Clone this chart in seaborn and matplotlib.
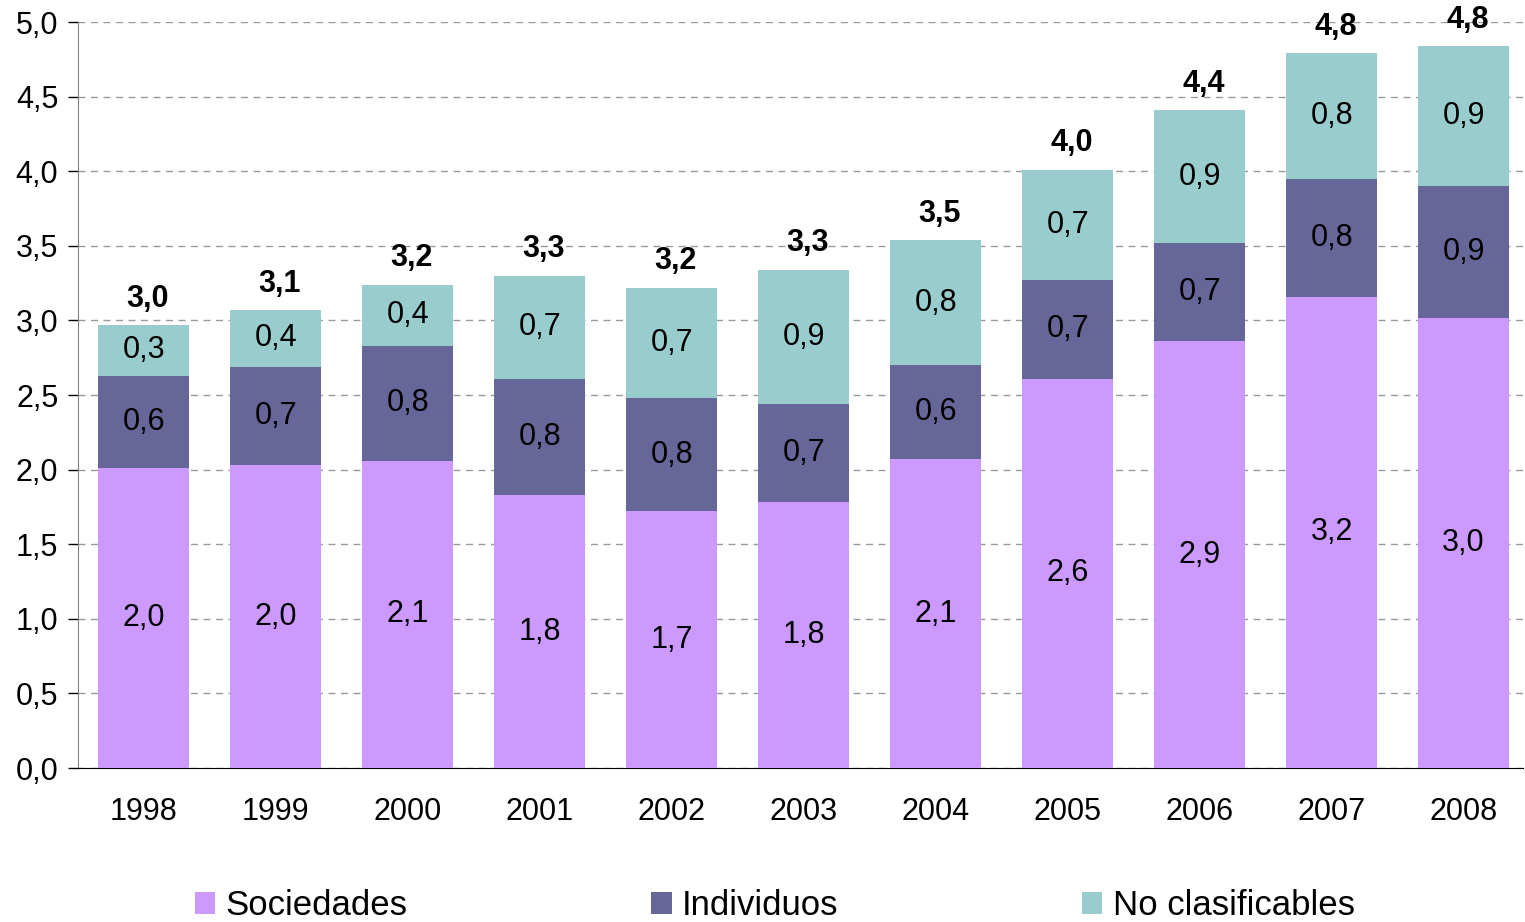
import numpy as np
import pandas as pd
import matplotlib
matplotlib.use("Agg")
import matplotlib.pyplot as plt
from matplotlib.patches import Patch
import seaborn as sns

# values (billions)
years = ["1998", "1999", "2000", "2001", "2002", "2003", "2004", "2005", "2006", "2007", "2008"]
sociedades = [2.01, 2.03, 2.06, 1.83, 1.72, 1.78, 2.07, 2.61, 2.86, 3.16, 3.02]
individuos = [0.62, 0.66, 0.77, 0.78, 0.76, 0.66, 0.63, 0.66, 0.66, 0.79, 0.88]
no_clasificables = [0.34, 0.38, 0.41, 0.69, 0.74, 0.90, 0.84, 0.74, 0.89, 0.84, 0.94]
series_names = ["Sociedades", "Individuos", "No clasificables"]
colors = ["#CC99FF", "#666699", "#99CCCC"]

sns.set_style("white")
plt.rcParams["font.family"] = ["Liberation Sans", "DejaVu Sans"]
plt.rcParams["text.color"] = "black"
plt.rcParams["xtick.color"] = "black"
plt.rcParams["ytick.color"] = "black"


def fmt(v):
    return f"{v:.1f}".replace(".", ",")


df = pd.DataFrame({"year": years, "soc": sociedades, "ind": individuos, "noc": no_clasificables})
df["soc_ind"] = df["soc"] + df["ind"]
df["total"] = df["soc_ind"] + df["noc"]

fig = plt.figure(figsize=(15.25, 9.22), dpi=100)
ax = fig.add_axes([0.051, 0.167, 0.9477, 0.809])

# stacked by overlaying cumulative sums, tallest first
for col, c in zip(["total", "soc_ind", "soc"], colors[::-1]):
    sns.barplot(data=df, x="year", y=col, color=c, width=0.69, ax=ax,
                saturation=1, linewidth=0, zorder=3)

# segment labels
for i, row in df.iterrows():
    ax.text(i, row["soc"] / 2, fmt(row["soc"]), ha="center", va="center", fontsize=22, zorder=5)
    ax.text(i, row["soc"] + row["ind"] / 2, fmt(row["ind"]), ha="center", va="center", fontsize=22, zorder=5)
    ax.text(i, row["soc_ind"] + row["noc"] / 2, fmt(row["noc"]), ha="center", va="center", fontsize=22, zorder=5)
    ax.annotate(fmt(row["total"]), (i, row["total"]), xytext=(3, 19), textcoords="offset points",
                ha="center", va="center", fontsize=22, fontweight="bold", zorder=5)

ax.set_yticks(np.arange(0, 5.01, 0.5))
ax.set_yticklabels([fmt(v) for v in np.arange(0, 5.01, 0.5)], fontsize=22)
ax.yaxis.grid(True, linestyle=(0, (5, 4)), color="#999999", linewidth=1, zorder=0)
ax.set_axisbelow(True)

# x ticks between categories, labels at centers
ax.set_xticks(np.arange(-0.5, len(years), 1.0), minor=False)
ax.set_xticklabels([])
ax.set_xticks(np.arange(len(years)), minor=True)
ax.set_xticklabels(years, minor=True, fontsize=22)
ax.tick_params(axis="x", which="major", direction="out", length=7, width=1, color="#555555")
ax.tick_params(axis="x", which="minor", length=0, pad=21)
ax.tick_params(axis="y", direction="out", length=7, width=1, color="black", pad=7, left=True)

# limits after ticks so set_xticks does not widen them
ax.set_ylim(0, 5.0)
ax.set_xlim(-0.5, len(years) - 0.55)

ax.set_xlabel("")
ax.set_ylabel("")
for s in ["top", "right"]:
    ax.spines[s].set_visible(False)
ax.spines["left"].set_color("#808080")
ax.spines["bottom"].set_color("black")

handles = [Patch(facecolor=c, edgecolor="none") for c in colors]
fig.legend(handles, series_names, loc="center", bbox_to_anchor=(0.508, 0.018), ncol=3,
           frameon=False, fontsize=25, handlelength=0.6, handleheight=0.6,
           handletextpad=0.3, columnspacing=7.0, borderpad=0.1)

fig.savefig("out.png", dpi=100)
